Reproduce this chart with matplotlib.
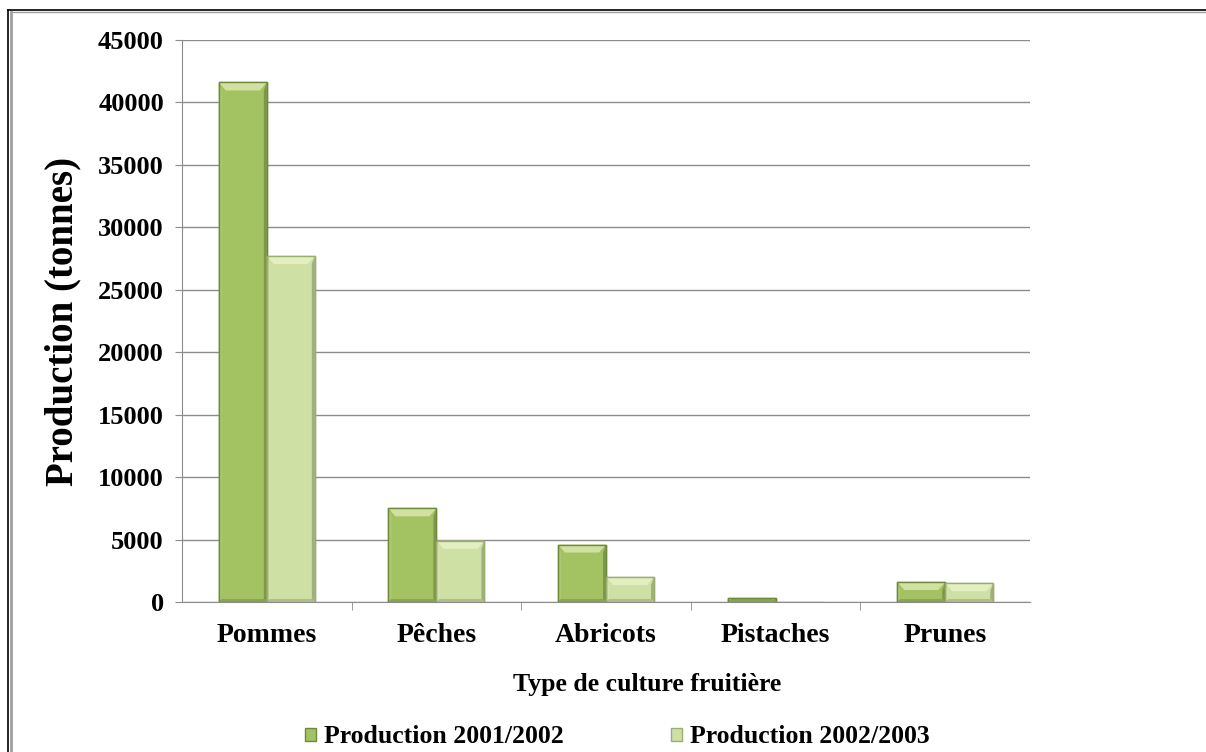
import matplotlib
matplotlib.use('Agg')
import matplotlib.pyplot as plt
import numpy as np
from matplotlib.lines import Line2D
from matplotlib.patches import Polygon
from matplotlib.colors import to_rgb

categories = ['Pommes', 'Pêches', 'Abricots', 'Pistaches', 'Prunes']
prod_2001 = [41600, 7500, 4600, 300, 1600]
prod_2002 = [27700, 4900, 2000, 0, 1500]
series_labels = ['Production 2001/2002', 'Production 2002/2003']

plt.rcParams['font.family'] = ['Liberation Serif', 'DejaVu Serif']
plt.rcParams['font.weight'] = 'bold'

fig = plt.figure(figsize=(12.06, 7.52), dpi=100)
ax = fig.add_axes([0.1509, 0.1995, 0.7032, 0.7473])

x = np.arange(len(categories))
w = 0.283
b1 = ax.bar(x - w / 2, prod_2001, w, color='#A3C262', edgecolor='#6E8A3A', lw=1.0, label=series_labels[0], zorder=3)
b2 = ax.bar(x + w / 2, prod_2002, w, color='#CFE0A4', edgecolor='#9AAE6E', lw=1.0, label=series_labels[1], zorder=3)

ax.set_xlim(-0.5, len(categories) - 0.5)
ax.set_ylim(0, 45000)
ax.set_yticks(np.arange(0, 45001, 5000))
ax.yaxis.grid(True, color='#8C8C8C', lw=1.0, zorder=0)
ax.set_axisbelow(True)


def mix(c, other, f):
    c, o = np.array(to_rgb(c)), np.array(to_rgb(other))
    return tuple(c * (1 - f) + o * f)


# soft bevel on the bars, built from the bar patches themselves
fig.canvas.draw()
inv = ax.transData.inverted()
for bars in (b1, b2):
    for p in bars.patches:
        bb = p.get_window_extent()
        if bb.height < 1:
            continue
        x0, y0, x1, y1 = bb.x0, bb.y0, bb.x1, bb.y1
        dy = min(8, bb.height / 2)
        dx = min(7, dy)
        base = p.get_facecolor()
        pieces = [
            ([(x0, y1), (x1, y1), (x1 - dx, y1 - dy), (x0 + dx, y1 - dy)], mix(base, '#F4FAD8', 0.55)),
            ([(x0, y0), (x0, y1), (x0 + 3, y1 - dy), (x0 + 3, y0 + 3)], mix(base, 'white', 0.10)),
            ([(x1, y0), (x1, y1), (x1 - 3, y1 - dy), (x1 - 3, y0 + 3)], mix(base, 'black', 0.22)),
            ([(x0, y0), (x1, y0), (x1 - 3, y0 + 3), (x0 + 3, y0 + 3)], mix(base, 'black', 0.15)),
        ]
        for pts, col in pieces:
            ax.add_patch(Polygon(inv.transform(pts), closed=True, facecolor=col, edgecolor='none', zorder=4))
        ax.add_patch(Polygon(inv.transform([(x0, y0), (x1, y0), (x1, y1), (x0, y1)]), closed=True,
                             facecolor='none', edgecolor=p.get_edgecolor(), lw=1.0, zorder=5))

ax.set_xticks(x)
ax.set_xticklabels(categories, fontsize=20, fontweight='bold')
ax.set_xticks(np.arange(0.5, len(categories) - 0.5), minor=True)
ax.tick_params(axis='x', which='major', length=0, pad=15)
ax.tick_params(axis='x', which='minor', length=6, color='#8C8C8C')
ax.tick_params(axis='y', length=5, color='#8C8C8C', labelsize=19, pad=8)
for t in ax.get_yticklabels():
    t.set_fontweight('bold')

for s in ['top', 'right']:
    ax.spines[s].set_visible(False)
ax.spines['left'].set_color('#8C8C8C')
ax.spines['bottom'].set_color('#8C8C8C')

ax.set_ylabel('Production (tonnes)', fontsize=28, fontweight='bold', labelpad=12)
ax.set_xlabel('Type de culture fruitière', fontsize=18.5, fontweight='bold', labelpad=18, x=0.548)

fig.legend(handles=[b1, b2], labels=series_labels, loc='center', bbox_to_anchor=(0.512, 0.02),
           ncol=2, frameon=False, fontsize=18.5, handlelength=0.42, handleheight=0.42,
           handletextpad=0.3, columnspacing=4.2)

# outer frame (left and top edges)
fig.add_artist(Line2D([8 / 1206, 8 / 1206], [0, 1 - 10 / 752], transform=fig.transFigure, color='black', lw=1.2))
fig.add_artist(Line2D([11 / 1206, 11 / 1206], [0, 1 - 12 / 752], transform=fig.transFigure, color='#A0A0A0', lw=2))
fig.add_artist(Line2D([8 / 1206, 1], [1 - 10 / 752, 1 - 10 / 752], transform=fig.transFigure, color='black', lw=1.2))
fig.add_artist(Line2D([11 / 1206, 1], [1 - 12 / 752, 1 - 12 / 752], transform=fig.transFigure, color='#A0A0A0', lw=1))

fig.savefig('out.png', dpi=100)
